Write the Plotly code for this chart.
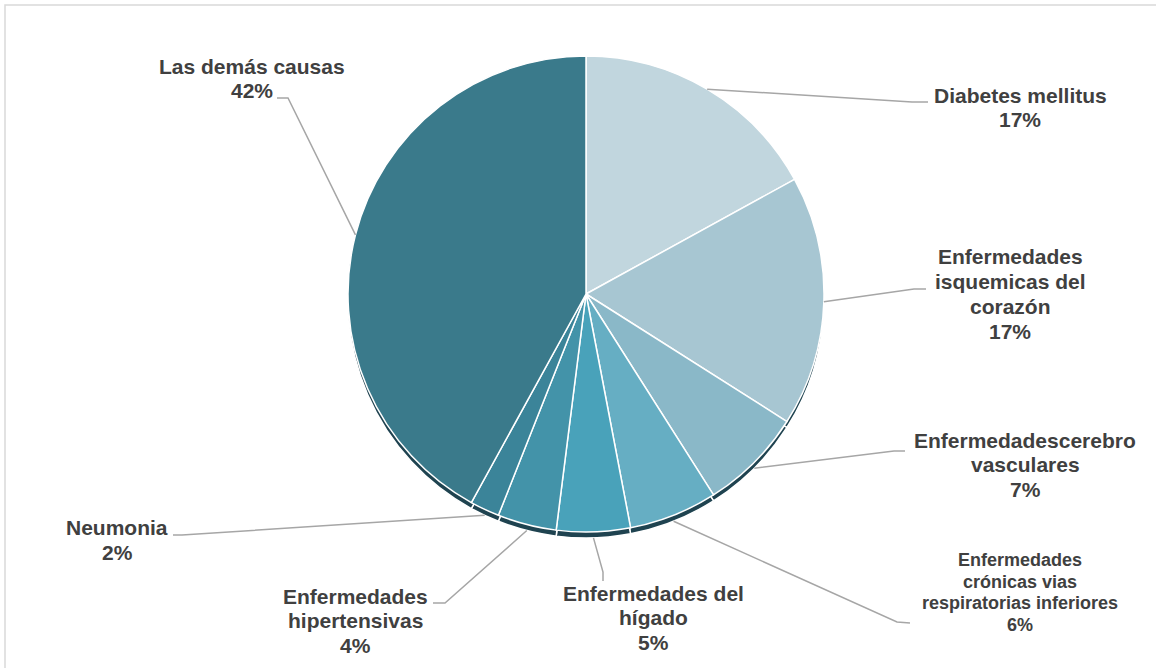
import math
import plotly.graph_objects as go

# Causes of death and their share (%)
causes = [
    "Diabetes mellitus",
    "Enfermedades isquemicas del corazón",
    "Enfermedadescerebro vasculares",
    "Enfermedades crónicas vias respiratorias inferiores",
    "Enfermedades del hígado",
    "Enfermedades hipertensivas",
    "Neumonia",
    "Las demás causas",
]
shares = [17, 17, 7, 6, 5, 4, 2, 42]

# Label text as it is broken over lines
label_lines = [
    ["Diabetes mellitus"],
    ["Enfermedades", "isquemicas del", "corazón"],
    ["Enfermedadescerebro", "vasculares"],
    ["Enfermedades", "crónicas vias", "respiratorias inferiores"],
    ["Enfermedades del", "hígado"],
    ["Enfermedades", "hipertensivas"],
    ["Neumonia"],
    ["Las demás causas"],
]

colors = ["#c1d6de", "#a7c6d2", "#8ab8c8", "#66aec3",
          "#49a2ba", "#4393a9", "#3b8499", "#3a7a8b"]

W, H = 1156, 668
CX, CY, R = 586, 294, 238   # pie centre / radius in px
DEPTH = 6                   # thickness of the dark rim

# label centre x, first line y, line step, font size, elbow point, end point (px)
label_layout = [
    (1020, 96, 25, 21, (912, 102), (928, 102)),
    (1010, 257, 25.3, 21, (914, 289), (926, 289)),
    (1025, 441, 24.5, 21, (894, 451), (905, 451)),
    (1020, 561, 21.7, 18, (897, 622), (910, 623)),
    (653, 594, 24.5, 21, (603, 572), (603, 581)),
    (355, 597, 24.5, 21, (445, 603), (433, 603)),
    (117, 528, 25, 21, (182, 535), (173, 535)),
    (252, 67, 24, 21, (288, 98), (277, 98)),
]


def px(x):
    return x / W


def py(y):
    return 1 - y / H


dom_x = [px(CX - R), px(CX + R)]
dom_y = [py(CY + R), py(CY - R)]
dom_y_back = [py(CY + R + DEPTH), py(CY - R + DEPTH)]

fig = go.Figure()

# dark rim underneath, shifted down a few pixels
fig.add_trace(go.Pie(
    values=shares, labels=causes, sort=False, direction="clockwise",
    rotation=0, textinfo="none", hoverinfo="skip", showlegend=False,
    marker=dict(colors=["#1f4350"] * len(shares),
                line=dict(color="white", width=1.5)),
    domain=dict(x=dom_x, y=dom_y_back),
))

fig.add_trace(go.Pie(
    values=shares, labels=causes, sort=False, direction="clockwise",
    rotation=0, textinfo="none", hoverinfo="label+percent", showlegend=False,
    marker=dict(colors=colors, line=dict(color="white", width=1.5)),
    domain=dict(x=dom_x, y=dom_y),
))

total = sum(shares)
cum = 0.0
shapes = []
annotations = []
for val, lines, (lx, ly, step, fsize, elbow, end) in zip(shares, label_lines, label_layout):
    mid = (cum + val / 2) / total * 2 * math.pi
    cum += val
    ex = CX + R * math.sin(mid)
    ey = CY - R * math.cos(mid)
    if math.cos(mid) < 0:
        ey += DEPTH * min(1.0, -math.cos(mid) * 1.5)
    shapes.append(dict(
        type="path", xref="paper", yref="paper",
        path=f"M {px(ex)} {py(ey)} L {px(elbow[0])} {py(elbow[1])} L {px(end[0])} {py(end[1])}",
        line=dict(color="#a6a6a6", width=1.5),
    ))
    pct = round(val / total * 100)
    for i, txt in enumerate(lines + [f"{pct}%"]):
        annotations.append(dict(
            x=px(lx), y=py(ly + i * step - 1), xref="paper", yref="paper",
            text=f"<b>{txt}</b>", showarrow=False,
            xanchor="center", yanchor="middle", align="center",
            font=dict(family="Liberation Sans, Arial, sans-serif", size=fsize, color="#404040"),
        ))

# chart frame
shapes.append(dict(
    type="rect", xref="paper", yref="paper",
    x0=px(5), y0=py(700), x1=px(1200), y1=py(5),
    line=dict(color="#d9d9d9", width=1.5), layer="below",
))

fig.update_layout(
    width=W, height=H,
    margin=dict(l=0, r=0, t=0, b=0, pad=0),
    paper_bgcolor="white", plot_bgcolor="white",
    shapes=shapes, annotations=annotations,
)

fig.write_html("out.html")
